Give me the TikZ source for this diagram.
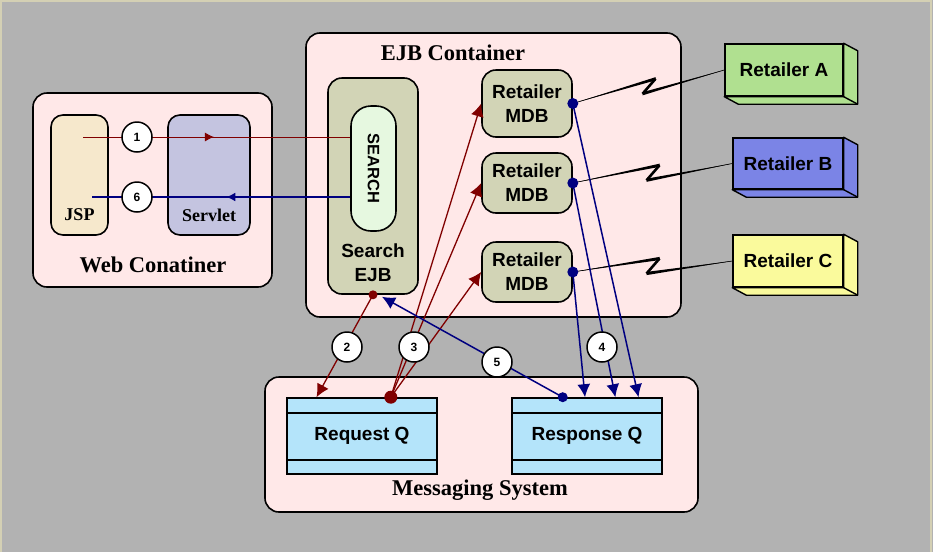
\documentclass[tikz,border=0pt]{standalone}
\usepackage{fontspec}
\setmainfont{Liberation Serif}
\setsansfont{Liberation Sans}
\usetikzlibrary{arrows.meta,calc,decorations.markings}
\definecolor{bgc}{HTML}{B2B2B2}
\definecolor{edgec}{HTML}{D4D0B4}
\definecolor{contc}{HTML}{FFE8E8}
\definecolor{jspc}{HTML}{F6E8CC}
\definecolor{servc}{HTML}{C4C4E0}
\definecolor{ejbc}{HTML}{D2D4B6}
\definecolor{searchc}{HTML}{E6F8E0}
\definecolor{queuec}{HTML}{B4E4FA}
\definecolor{retA}{HTML}{B0E090}
\definecolor{retB}{HTML}{7B84E6}
\definecolor{retC}{HTML}{FAFA9C}
\definecolor{reqc}{HTML}{800000}
\definecolor{respc}{HTML}{000080}

\begin{document}
\begin{tikzpicture}[x=1pt,y=-1pt,>={Latex[length=13pt,width=13pt]},
  box/.style={draw,line width=1.6pt,rounded corners=14pt,inner sep=0pt},
  title/.style={font=\fontsize{22.5}{26}\selectfont\bfseries},
  small/.style={font=\fontsize{18}{22}\selectfont\bfseries},
  lbl/.style={font=\fontsize{19}{24}\selectfont\sffamily\bfseries,align=center},
  retailer/.style={draw,line width=1.4pt,inner sep=0pt,font=\fontsize{19}{24}\selectfont\sffamily\bfseries},
  queue/.style={draw,line width=1.6pt,fill=queuec,inner sep=0pt,minimum width=150pt,minimum height=76pt,font=\fontsize{19}{24}\selectfont\sffamily\bfseries},
  num/.style={circle,draw,line width=1.5pt,fill=white,minimum size=30pt,inner sep=0pt,font=\fontsize{12}{14}\selectfont\sffamily\bfseries},
  req/.style={->,draw=reqc,line width=1.3pt},
  resp/.style={->,draw=respc,line width=1.5pt},
  midarrow/.style={postaction={decorate},decoration={markings,mark=at position #1 with {\arrow{Latex[length=9pt,width=9pt]}}}}]
  \useasboundingbox (0,0) rectangle (933,552);
  \fill[bgc] (0,0) rectangle (933,552);
  \draw[edgec,line width=1.5pt] (1,552) -- (1,1) -- (931,1) -- (931,552);

  % containers
  \node[box,fill=contc,minimum width=239pt,minimum height=194pt] (Web) at (152.5,190) {};
  \node[title] (WebTitle) at (153,265) {Web Conatiner};
  \node[box,fill=contc,minimum width=375pt,minimum height=284pt] (EJB) at (493.5,175) {};
  \node[title] (EJBTitle) at (453,53) {EJB Container};
  \node[box,fill=contc,minimum width=433pt,minimum height=135pt] (Msg) at (481.5,444.5) {};
  \node[title] (MsgTitle) at (480,490) {Messaging System};

  % web tier
  \node[box,fill=jspc,rounded corners=12pt,minimum width=57pt,minimum height=120pt] (JSP) at (79.5,175) {};
  \node[small] (JSPText) at (79.5,215) {JSP};
  \node[box,fill=servc,rounded corners=12pt,minimum width=82pt,minimum height=120pt] (Servlet) at (209,175) {};
  \node[small] (ServletText) at (209,215) {Servlet};

  % ejb tier
  \node[box,fill=ejbc,minimum width=90pt,minimum height=216pt] (SearchEJB) at (373,186) {};
  \node[lbl] (SearchText) at (373,263) {Search\\EJB};
  \node[box,fill=searchc,rounded corners=20pt,minimum width=45pt,minimum height=125pt,font=\fontsize{16.5}{20}\selectfont\sffamily\bfseries] (SEARCH) at (373.5,168.5) {\rotatebox{-90}{SEARCH}};
  \node[box,fill=ejbc,minimum width=90pt,minimum height=67pt,lbl] (MDB1) at (527,103.5) {Retailer\\MDB};
  \node[box,fill=ejbc,minimum width=90pt,minimum height=60pt,lbl] (MDB2) at (527,183) {Retailer\\MDB};
  \node[box,fill=ejbc,minimum width=90pt,minimum height=60pt,lbl] (MDB3) at (527,272) {Retailer\\MDB};

  % retailers
  \node[retailer,fill=retA,minimum width=118pt,minimum height=52pt] (RetA) at (784,70) {Retailer A};
  \node[retailer,fill=retB,minimum width=110pt,minimum height=51pt] (RetB) at (788,163.5) {Retailer B};
  \node[retailer,fill=retC,minimum width=110pt,minimum height=52pt] (RetC) at (788,261) {Retailer C};
  \foreach \r/\c in {RetA/retA,RetB/retB,RetC/retC}{
    \filldraw[fill=\c,line width=1.4pt,line join=round] (\r.north east) -- ++(14,7.5) -- ($(\r.south east)+(14,7.5)$) -- ($(\r.south west)+(14,7.5)$) -- (\r.south west) -- (\r.south east) -- cycle;
    \draw[line width=1.4pt] (\r.south east) -- ++(14,7.5);
  }

  % queues
  \node[queue] (ReqQ) at (362,436) {\raisebox{-3pt}{Request Q}};
  \node[queue] (RespQ) at (587,436) {Response Q};
  \foreach \q in {ReqQ,RespQ}{
    \draw[line width=1.6pt] ($(\q.north west)+(0,16)$) -- ($(\q.north east)+(0,16)$);
    \draw[line width=1.6pt] ($(\q.south west)+(0,-15)$) -- ($(\q.south east)+(0,-15)$);
  }

  % links to retailers
  \foreach \m/\r in {MDB1/RetA,MDB2/RetB,MDB3/RetC}{
    \coordinate (Zm) at ($(\m.east)!0.5!(\r.west)$);
    \coordinate (Zt) at ($(Zm)+(7,-8)$);
    \coordinate (Zb) at ($(Zm)+(-6,7)$);
    \fill (\m.east) -- ($(Zt)+(0,-1.6)$) -- ($(Zt)+(0,1.6)$) -- cycle;
    \draw[line width=2.6pt] (Zt) -- (Zb);
    \fill ($(Zb)+(0,-1.6)$) -- ($(Zb)+(0,1.6)$) -- (\r.west) -- cycle;
    \draw[line width=0.6pt] (\m.east) -- (Zt) (Zb) -- (\r.west);
  }

  % web to ejb
  \coordinate (J1) at (83,137);
  \coordinate (J6) at (92,197);
  \draw[reqc,line width=0.9pt,midarrow=0.49] (J1) -- (J1 -| SEARCH.west);
  \draw[respc,line width=1.8pt,midarrow=0.48] (J6 -| SEARCH.west) -- (J6);

  % messages
  \draw[req] (SearchEJB.south) -- ($(ReqQ.north west)!0.2!(ReqQ.north east)$);
  \coordinate (RQ) at ($(ReqQ.north west)!0.69!(ReqQ.north east)$);
  \draw[req] (RQ) -- (MDB1.west);
  \draw[req] (RQ) -- (MDB2.west);
  \draw[req] (RQ) -- (MDB3.west);
  \draw[resp] (MDB1.east) -- ($(RespQ.north west)!0.84!(RespQ.north east)$);
  \draw[resp] (MDB2.east) -- ($(RespQ.north west)!0.687!(RespQ.north east)$);
  \draw[resp] (MDB3.east) -- ($(RespQ.north west)!0.487!(RespQ.north east)$);
  \coordinate (SQ) at ($(RespQ.north west)!0.34!(RespQ.north east)$);
  \draw[resp] (SQ) -- ($(SearchEJB.south)+(9,2)$);

  % end dots
  \fill[reqc] (SearchEJB.south) circle (4.5);
  \fill[reqc] (RQ) circle (6.5);
  \fill[respc] (SQ) circle (5);
  \foreach \m in {MDB1,MDB2,MDB3}
    \fill[respc] (\m.east) circle (5.5);

  % step numbers
  \node[num] (N1) at (137,137) {1};
  \node[num] (N6) at (137,197) {6};
  \node[num] (N2) at (347,347) {2};
  \node[num] (N3) at (414,347) {3};
  \node[num] (N5) at (497,362) {5};
  \node[num] (N4) at (602,347) {4};
\end{tikzpicture}
\end{document}
